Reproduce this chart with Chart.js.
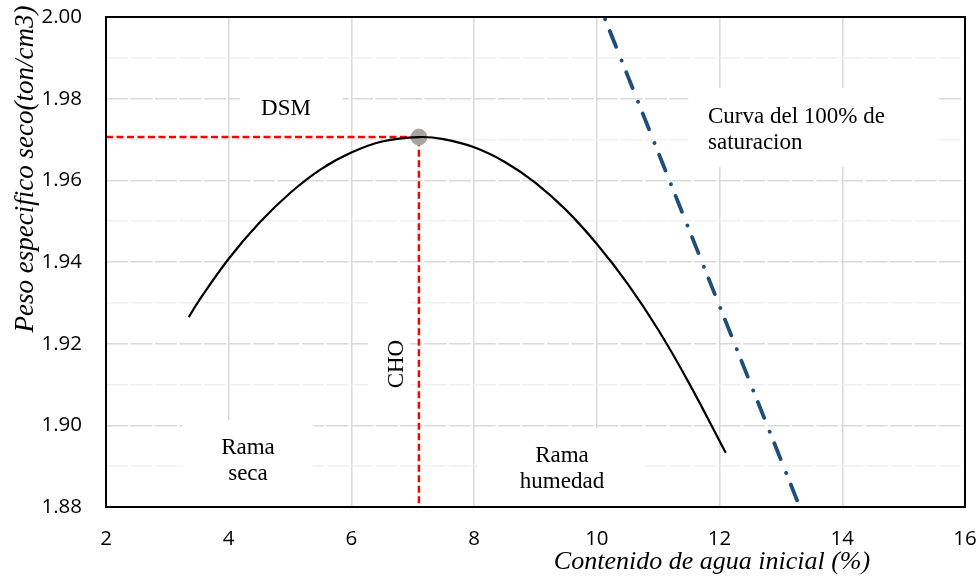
<!DOCTYPE html>
<html>
<head>
<meta charset="utf-8">
<script src="https://cdn.jsdelivr.net/npm/chart.js@4.4.1/dist/chart.umd.min.js"></script>
<style>
  html, body { margin: 0; padding: 0; background: #ffffff; }
  #wrap { width: 979px; height: 587px; position: relative; }
</style>
</head>
<body>
<div id="wrap"><canvas id="chart"></canvas></div>
<script>
// Compaction curve: water content (%) vs dry unit weight (ton/cm3)
const curveWater   = [3.35, 3.5, 4.0, 4.5, 5.0, 5.5, 6.0, 6.5, 7.1, 7.5, 8.0, 8.5, 9.0, 9.5, 10.0, 10.5, 11.0, 11.5, 12.1];
const curveDensity = [1.9265, 1.9302, 1.9408, 1.9496, 1.9569, 1.9627, 1.9668, 1.9695, 1.9706, 1.9701, 1.9681, 1.9645, 1.9594, 1.9527, 1.9444, 1.9347, 1.9234, 1.9104, 1.8933];

// 100% saturation line
const saturationWater   = [10.12, 13.28];
const saturationDensity = [2.00, 1.881];

// Optimum: CHO (optimum water content) and DSM (maximum dry density)
const optimumWater = 7.1;
const maxDensity   = 1.9706;

// Axis ranges and tick labels
const xMin = 2, xMax = 16, xStep = 2;
const yMin = 1.88, yMax = 2.00, yStep = 0.01;
const xTickLabels = ['2', '4', '6', '8', '10', '12', '14', '16'];
const yTickLabels = ['1.88', '1.90', '1.92', '1.94', '1.96', '1.98', '2.00'];

// Text notes inside the plot
const noteTexts = {
  dsm: ['DSM'],
  sat: ['Curva del 100% de', 'saturacion'],
  cho: ['CHO'],
  seca: ['Rama', 'seca'],
  humeda: ['Rama', 'humedad']
};

const serif = "'Times New Roman', 'Liberation Serif', serif";
const sans = "'Open Sans', 'Liberation Sans', sans-serif";

// placement of the notes (data units) and their white backing boxes
const notes = [
  { lines: noteTexts.dsm,    x: 4.934,  y: 1.9760, align: 'center', box: [4.18, 5.85, 1.9846, 1.9720] },
  { lines: noteTexts.sat,    x: 11.811, y: 1.9740, align: 'left',   box: [11.49, 15.56, 1.9826, 1.9633] },
  { lines: noteTexts.cho,    x: 6.840,  y: 1.9150, align: 'center', box: [6.27, 6.955, 1.9331, 1.9013], rotate: true },
  { lines: noteTexts.seca,   x: 4.314,  y: 1.8930, align: 'center', box: [3.239, 5.374, 1.9013, 1.88] },
  { lines: noteTexts.humeda, x: 9.432,  y: 1.8910, align: 'center', box: [8.063, 10.752, 1.8993, 1.88] }
];

const notesPlugin = {
  id: 'notes',
  beforeDatasetsDraw(chart) {
    const { ctx, scales: { x, y } } = chart;
    ctx.save();
    notes.forEach(n => {
      const bx0 = x.getPixelForValue(n.box[0]);
      const bx1 = x.getPixelForValue(n.box[1]);
      const by0 = y.getPixelForValue(n.box[2]);
      const by1 = y.getPixelForValue(n.box[3]);
      ctx.fillStyle = '#ffffff';
      ctx.fillRect(bx0, by0, bx1 - bx0, by1 - by0);
    });
    ctx.fillStyle = '#000000';
    ctx.font = '23px ' + serif;
    notes.forEach(n => {
      const px = x.getPixelForValue(n.x);
      const py = y.getPixelForValue(n.y);
      if (n.rotate) {
        ctx.save();
        ctx.translate(px, py);
        ctx.rotate(-Math.PI / 2);
        ctx.textAlign = 'center';
        ctx.textBaseline = 'alphabetic';
        ctx.fillText(n.lines[0], 0, 0);
        ctx.restore();
      } else {
        ctx.textAlign = n.align;
        ctx.textBaseline = 'alphabetic';
        n.lines.forEach((t, i) => ctx.fillText(t, px, py + i * 26));
      }
    });
    ctx.restore();
  },
  afterDraw(chart) {
    const { ctx, chartArea: a } = chart;
    ctx.save();
    // plot frame
    ctx.strokeStyle = '#000000';
    ctx.lineWidth = 2;
    ctx.strokeRect(a.left, a.top, a.right - a.left, a.bottom - a.top);
    // axis titles
    ctx.fillStyle = '#000000';
    ctx.font = 'italic 26px ' + serif;
    ctx.textAlign = 'center';
    ctx.textBaseline = 'alphabetic';
    ctx.fillText('Contenido de agua inicial (%)', 712, 569);
    ctx.translate(33, 169);
    ctx.rotate(-Math.PI / 2);
    ctx.font = 'italic 27px ' + serif;
    ctx.fillText('Peso especifico seco(ton/cm3)', 0, 0);
    ctx.restore();
  }
};

const curvePoints = curveWater.map((w, i) => ({ x: w, y: curveDensity[i] }));
const saturationPoints = saturationWater.map((w, i) => ({ x: w, y: saturationDensity[i] }));
const guidePoints = [
  { x: xMin, y: maxDensity },
  { x: optimumWater, y: maxDensity },
  { x: optimumWater, y: yMin }
];

new Chart(document.getElementById('chart'), {
  type: 'scatter',
  data: {
    datasets: [
      {
        label: 'Curva de compactacion',
        data: curvePoints,
        showLine: true,
        borderColor: '#000000',
        borderWidth: 2.2,
        pointRadius: 0,
        tension: 0.4,
        order: 0
      },
      {
        label: 'Optimo',
        data: [{ x: optimumWater, y: maxDensity }],
        pointRadius: 8,
        pointBackgroundColor: '#A5A5A5',
        pointBorderColor: '#B7A79C',
        pointBorderWidth: 1,
        order: 1
      },
      {
        label: 'DSM / CHO',
        data: guidePoints,
        showLine: true,
        borderColor: '#FF0000',
        borderWidth: 2.5,
        borderDash: [7, 3.5],
        pointRadius: 0,
        tension: 0,
        order: 2
      },
      {
        label: 'Curva del 100% de saturacion',
        data: saturationPoints,
        showLine: true,
        borderColor: '#1F4E79',
        borderWidth: 3.8,
        borderCapStyle: 'round',
        borderDash: [0.1, 12.5, 17, 14.8],
        borderDashOffset: -2.4,
        pointRadius: 0,
        tension: 0,
        order: 3
      }
    ]
  },
  options: {
    responsive: true,
    maintainAspectRatio: false,
    animation: false,
    events: [],
    layout: { padding: { top: 17, right: 14, bottom: 0, left: 0 } },
    plugins: {
      legend: { display: false },
      tooltip: { enabled: false }
    },
    scales: {
      x: {
        type: 'linear',
        min: xMin,
        max: xMax,
        afterFit(scale) {
          scale.height = 80;
          scale.paddingLeft = 0;
          scale.paddingRight = 0;
        },
        afterBuildTicks(scale) {
          scale.ticks = xTickLabels.map(v => ({ value: Number(v) }));
        },
        ticks: {
          stepSize: xStep,
          autoSkip: false,
          maxRotation: 0,
          padding: 20,
          color: '#000000',
          font: { family: sans, size: 20.5 },
          callback: v => String(v)
        },
        grid: { color: '#D9D9D9', lineWidth: 1.5, drawTicks: false },
        border: { display: false }
      },
      y: {
        type: 'linear',
        min: yMin,
        max: yMax,
        afterFit(scale) {
          scale.width = 106;
          scale.paddingTop = 0;
          scale.paddingBottom = 0;
        },
        ticks: {
          stepSize: yStep,
          autoSkip: false,
          padding: 24,
          color: '#000000',
          font: { family: sans, size: 20.5 },
          callback: v => {
            const s = Number(v).toFixed(2);
            return yTickLabels.includes(s) ? s : '';
          }
        },
        grid: {
          color: ctx => {
            const s = Number(ctx.tick.value).toFixed(2);
            return yTickLabels.includes(s) ? '#D9D9D9' : '#F0F0F0';
          },
          lineWidth: 1.5,
          drawTicks: false
        },
        border: { display: false, dash: [22, 2.5] }
      }
    }
  },
  plugins: [notesPlugin]
});
</script>
</body>
</html>
